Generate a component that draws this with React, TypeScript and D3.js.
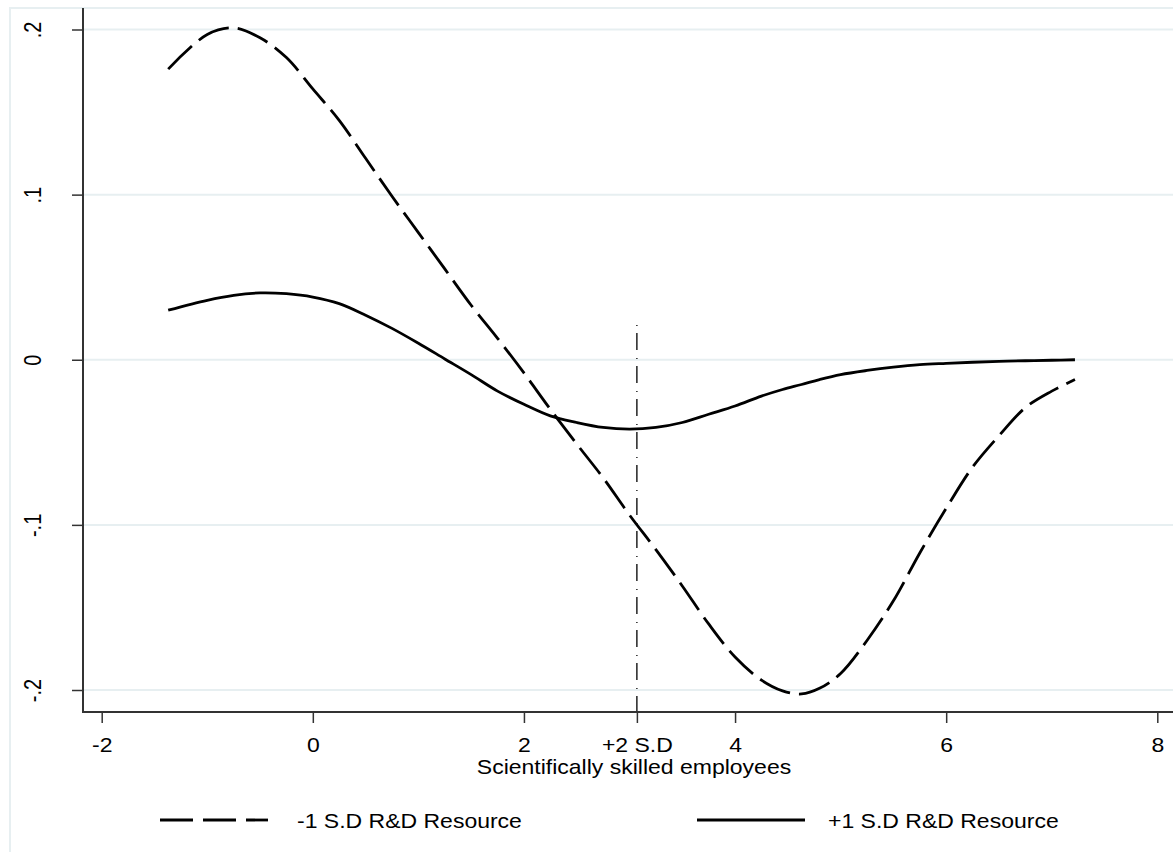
import React, { useRef, useEffect } from 'react';
import * as d3 from 'd3';

// x grid (Scientifically skilled employees) and the two predicted curves
const xValues = [-1.37, -1, -0.75, -0.5, -0.25, 0, 0.25, 0.5, 0.75, 1, 1.25, 1.5, 1.75, 2, 2.25, 2.5, 2.75, 3, 3.25, 3.5, 3.75, 4, 4.25, 4.45, 4.63, 4.8, 5, 5.25, 5.5, 5.75, 6, 6.25, 6.5, 6.75, 7, 7.22];
const minusSD = [0.176, 0.197, 0.201, 0.195, 0.183, 0.164, 0.145, 0.122, 0.099, 0.077, 0.055, 0.033, 0.013, -0.008, -0.030, -0.051, -0.0715, -0.094, -0.115, -0.137, -0.160, -0.180, -0.194, -0.2005, -0.2024, -0.199, -0.190, -0.170, -0.146, -0.117, -0.090, -0.065, -0.046, -0.029, -0.019, -0.012];
const plusSD = [0.030, 0.036, 0.039, 0.0405, 0.040, 0.038, 0.034, 0.027, 0.019, 0.010, 0.0005, -0.009, -0.019, -0.027, -0.034, -0.038, -0.041, -0.042, -0.041, -0.038, -0.033, -0.028, -0.022, -0.018, -0.015, -0.012, -0.009, -0.0065, -0.0045, -0.003, -0.0022, -0.0015, -0.001, -0.0006, -0.0003, 0];

const seriesNames = ['-1 S.D R&D Resource', '+1 S.D R&D Resource'];

const xTicks = [-2, 0, 2, 3.07, 4, 6, 8];
const xTickLabels = ['-2', '0', '2', '+2 S.D', '4', '6', '8'];
const yTicks = [-0.2, -0.1, 0, 0.1, 0.2];
const yTickLabels = ['-.2', '-.1', '0', '.1', '.2'];

// marker line at +2 S.D
const sdLineX = 3.07;
const sdLineTop = 0.021;

const xTitle = 'Scientifically skilled employees';

const W = 1173, H = 852;
const FONT = '"Liberation Sans", Arial, Helvetica, sans-serif';
const STRETCH = 'scale(1.15,1)';
const GRID = '#e7eff1';
const AXIS = '#333';

export default function App() {
    const ref = useRef<SVGSVGElement>(null);

    useEffect(() => {
        const svg = d3.select(ref.current);
        svg.selectAll('*').remove();

        const left = 83, top = 8, bottom = 712;
        const x = d3.scaleLinear().domain([-2, 8]).range([101.7, 1157.3]);
        const y = d3.scaleLinear().domain([-0.2, 0.2]).range([690, 29.5]);

        // outer graph region border
        svg.append('rect')
            .attr('x', 10).attr('y', 8).attr('width', 1300).attr('height', 1000)
            .attr('fill', 'none').attr('stroke', GRID).attr('stroke-width', 2);

        // gridlines
        svg.append('g').selectAll('line')
            .data(yTicks)
            .enter().append('line')
            .attr('x1', left).attr('x2', W + 20)
            .attr('y1', d => y(d)).attr('y2', d => y(d))
            .attr('stroke', GRID).attr('stroke-width', 2);

        // curves
        const pts = (vals: number[]) => xValues.map((v, i) => [v, vals[i]] as [number, number]);
        const line = d3.line<[number, number]>()
            .x(d => x(d[0]))
            .y(d => y(d[1]))
            .curve(d3.curveCatmullRom.alpha(0.5));

        svg.append('path')
            .attr('d', line(pts(minusSD)))
            .attr('fill', 'none').attr('stroke', '#000').attr('stroke-width', 2.8)
            .attr('stroke-dasharray', '33 9');

        svg.append('path')
            .attr('d', line(pts(plusSD)))
            .attr('fill', 'none').attr('stroke', '#000').attr('stroke-width', 2.8);

        // dash-dot marker
        svg.append('line')
            .attr('x1', x(sdLineX)).attr('x2', x(sdLineX))
            .attr('y1', y(sdLineTop)).attr('y2', bottom)
            .attr('stroke', '#000').attr('stroke-width', 1.3)
            .attr('stroke-dasharray', '1 7 17 8');

        // y axis
        const yAxis = svg.append('g')
            .attr('transform', `translate(${left},0)`)
            .call(d3.axisLeft(y).tickValues(yTicks)
                .tickFormat((d, i) => yTickLabels[i]).tickSize(11).tickSizeOuter(0));
        yAxis.select('.domain').remove();
        yAxis.selectAll('.tick line').attr('stroke', AXIS).attr('stroke-width', 1.5);
        yAxis.selectAll('.tick text')
            .attr('x', null).attr('dy', null)
            .attr('transform', `translate(-42,0) ${STRETCH} rotate(-90)`)
            .attr('text-anchor', 'middle')
            .attr('fill', '#000')
            .style('font-family', FONT).style('font-size', '20px');

        svg.append('line')
            .attr('x1', left).attr('x2', left).attr('y1', top).attr('y2', bottom + 1)
            .attr('stroke', AXIS).attr('stroke-width', 2);

        // x axis
        const xAxis = svg.append('g')
            .attr('transform', `translate(0,${bottom})`)
            .call(d3.axisBottom(x).tickValues(xTicks)
                .tickFormat((d, i) => xTickLabels[i]).tickSize(11).tickSizeOuter(0));
        xAxis.select('.domain').remove();
        xAxis.selectAll('.tick line').attr('stroke', AXIS).attr('stroke-width', 1.5);
        xAxis.selectAll('.tick text')
            .attr('y', null).attr('dy', null)
            .attr('transform', `translate(0,40) ${STRETCH}`)
            .attr('text-anchor', 'middle')
            .attr('fill', '#000')
            .style('font-family', FONT).style('font-size', '20px');

        svg.append('line')
            .attr('x1', left - 1).attr('x2', W + 20).attr('y1', bottom).attr('y2', bottom)
            .attr('stroke', AXIS).attr('stroke-width', 2);

        // axis title
        svg.append('text')
            .attr('transform', `translate(634,774) ${STRETCH}`)
            .attr('text-anchor', 'middle')
            .style('font-family', FONT).style('font-size', '20px')
            .text(xTitle);

        // legend
        const legend = [
            { x0: 160, x1: 268, tx: 297, dash: '33 10' },
            { x0: 697, x1: 805, tx: 828, dash: null },
        ];
        legend.forEach((l, i) => {
            svg.append('line')
                .attr('x1', l.x0).attr('x2', l.x1).attr('y1', 820).attr('y2', 820)
                .attr('stroke', '#000').attr('stroke-width', 2.8)
                .attr('stroke-dasharray', l.dash);
            svg.append('text')
                .attr('transform', `translate(${l.tx},828) ${STRETCH}`)
                .style('font-family', FONT).style('font-size', '20px')
                .text(seriesNames[i]);
        });
    }, []);

    return (
        <svg ref={ref} width={W} height={H}
             style={{ position: 'absolute', left: 0, top: 0, background: '#fff' }} />
    );
}
